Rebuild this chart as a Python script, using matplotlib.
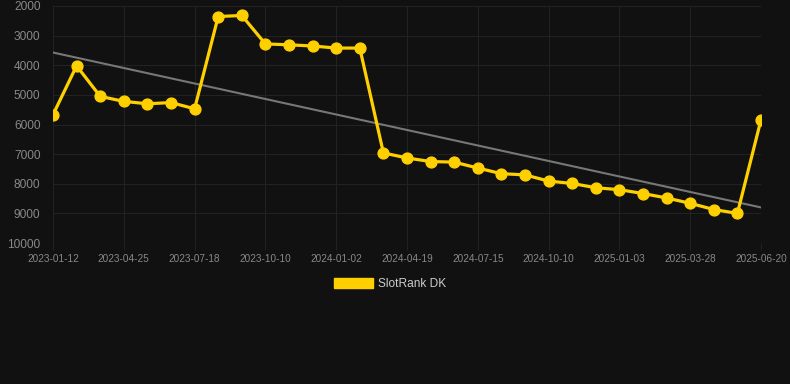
import numpy as np
import matplotlib
matplotlib.use("Agg")
import matplotlib.pyplot as plt
from matplotlib.patches import Patch

plt.rcParams['font.family'] = ['Liberation Sans', 'DejaVu Sans']

dates = ["2023-01-12", "2023-02-09", "2023-03-23", "2023-04-25", "2023-05-23", "2023-06-20",
         "2023-07-18", "2023-08-15", "2023-09-12", "2023-10-10", "2023-11-07", "2023-12-05",
         "2024-01-02", "2024-01-30", "2024-03-22", "2024-04-19", "2024-05-17", "2024-06-17",
         "2024-07-15", "2024-08-14", "2024-09-11", "2024-10-10", "2024-11-07", "2024-12-06",
         "2025-01-03", "2025-01-31", "2025-02-28", "2025-03-28", "2025-04-25", "2025-05-23",
         "2025-06-20"]
ranks = [5670, 4020, 5050, 5220, 5300, 5260, 5470, 2355, 2320, 3280, 3310, 3350,
         3420, 3420, 6960, 7130, 7250, 7270, 7470, 7660, 7700, 7910, 7990, 8135,
         8200, 8330, 8480, 8660, 8870, 9000, 5840]
trend_ends = [3570, 8800]
series_label = "SlotRank DK"
y_ticks = [2000, 3000, 4000, 5000, 6000, 7000, 8000, 9000, 10000]

W, H = 790, 384
fig = plt.figure(figsize=(W / 100, H / 100), dpi=100)
bg = "#111111"
fig.patch.set_facecolor(bg)
ax = fig.add_axes([53 / W, 1 - 243 / H, (761 - 53) / W, (243 - 6) / H])
ax.set_facecolor(bg)

x = np.arange(len(dates))
ax.plot([x[0], x[-1]], trend_ends, color="#777777", lw=1.5, zorder=2)
ax.plot(x, ranks, color="#FFD000", lw=2.3, marker="o", markersize=7.8,
        markerfacecolor="#FFD000", markeredgecolor="#FFD000", zorder=3)

ax.set_ylim(10000, 2000)
ax.set_yticks(y_ticks)
ax.set_yticklabels([str(v) for v in y_ticks])
ax.set_xlim(0, len(dates) - 1)
tick_idx = list(range(0, len(dates), 3))
ax.set_xticks(tick_idx)
ax.set_xticklabels([dates[i] for i in tick_idx])

ax.grid(True, color="#222222", lw=0.8)
ax.set_axisbelow(True)
for s in ax.spines.values():
    s.set_visible(False)
ax.tick_params(axis="y", length=0, pad=9, labelsize=8.6, labelcolor="#888888")
ax.tick_params(axis="x", length=5, color="#222222", pad=3, labelsize=7.2, labelcolor="#888888")

leg = fig.legend(handles=[Patch(facecolor="#FFD000", edgecolor="#FFD000")], labels=[series_label],
                 loc="center", bbox_to_anchor=(390 / W, 1 - 284 / H), frameon=False,
                 handlelength=3.3, handleheight=1.0, handletextpad=0.45,
                 prop={"size": 8.6})
for t in leg.get_texts():
    t.set_color("#cccccc")

fig.savefig("out.png", dpi=100, facecolor=bg)
